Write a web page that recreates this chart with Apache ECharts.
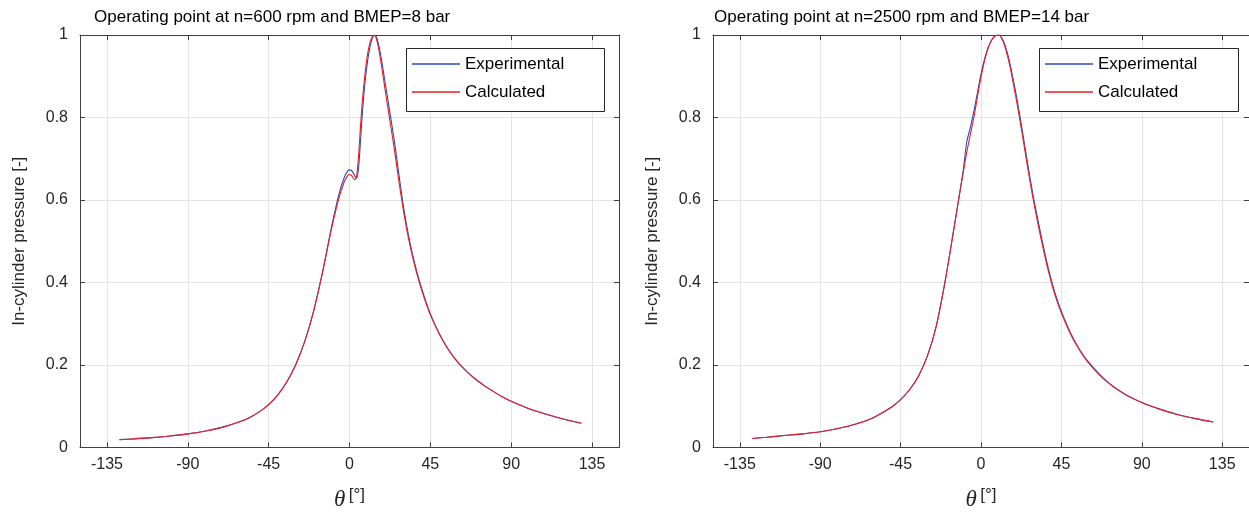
<!DOCTYPE html>
<html>
<head>
<meta charset="utf-8">
<script src="https://cdn.jsdelivr.net/npm/echarts@6/dist/echarts.min.js"></script>
<style>
  html, body { margin: 0; padding: 0; background: #ffffff; }
  #chart { width: 1249px; height: 516px; }
</style>
</head>
<body>
<div id="chart"></div>
<script>
// Crank angle (deg) and normalised in-cylinder pressure, n=600 rpm / BMEP=8 bar
const thetaLeft = [-128,-120,-110,-100,-90,-80,-70,-60,-55,-50,-45,-40,-35,-30,-25,-20,-15,-10,-6,-3,-1,0,1,2,3,4,5,6,7,8,9,10,11,12,13,14,15,16,17,18,20,22.5,25,27.5,30,32.5,35,37.5,40,42.5,45,50,55,60,65,70,75,80,85,90,100,110,120,129];
const expLeft = [0.019,0.021,0.024,0.028,0.033,0.040,0.050,0.064,0.074,0.087,0.104,0.127,0.158,0.200,0.256,0.330,0.425,0.535,0.612,0.654,0.670,0.673,0.672,0.666,0.658,0.653,0.675,0.735,0.800,0.855,0.900,0.935,0.962,0.982,0.995,1.000,0.995,0.980,0.960,0.935,0.880,0.812,0.742,0.662,0.585,0.522,0.470,0.426,0.388,0.354,0.324,0.276,0.238,0.208,0.185,0.166,0.150,0.136,0.123,0.112,0.094,0.080,0.068,0.059];
const calcLeft = [0.019,0.021,0.024,0.028,0.033,0.040,0.050,0.064,0.074,0.087,0.104,0.127,0.158,0.200,0.256,0.330,0.425,0.530,0.603,0.643,0.659,0.662,0.660,0.654,0.649,0.660,0.705,0.770,0.832,0.880,0.920,0.952,0.975,0.990,0.998,0.999,0.990,0.972,0.948,0.920,0.862,0.792,0.722,0.645,0.575,0.514,0.464,0.421,0.384,0.351,0.322,0.275,0.237,0.208,0.185,0.166,0.150,0.136,0.123,0.112,0.094,0.080,0.068,0.059];

// Crank angle (deg) and normalised in-cylinder pressure, n=2500 rpm / BMEP=14 bar
const thetaRight = [-128,-120,-110,-100,-90,-80,-70,-60,-50,-45,-40,-35,-30,-25,-20,-15,-12,-10,-8,-6,-4,-2,0,2,4,6,8,10,12,14,16,18,20,22.5,25,27.5,30,32.5,35,37.5,40,42.5,45,50,55,60,70,80,90,100,110,120,130];
const expRight = [0.022,0.025,0.029,0.033,0.038,0.046,0.057,0.073,0.098,0.116,0.140,0.173,0.222,0.295,0.405,0.535,0.615,0.670,0.740,0.775,0.815,0.860,0.905,0.942,0.970,0.988,0.998,1.000,0.990,0.968,0.935,0.893,0.848,0.785,0.718,0.652,0.592,0.538,0.486,0.438,0.396,0.360,0.330,0.279,0.239,0.208,0.162,0.131,0.109,0.093,0.080,0.070,0.062];
const calcRight = [0.022,0.025,0.029,0.033,0.038,0.046,0.057,0.073,0.098,0.116,0.140,0.173,0.222,0.295,0.405,0.535,0.615,0.665,0.715,0.758,0.800,0.850,0.898,0.938,0.968,0.988,0.998,1.000,0.988,0.963,0.928,0.884,0.838,0.775,0.708,0.643,0.583,0.529,0.478,0.431,0.390,0.355,0.326,0.276,0.237,0.206,0.161,0.130,0.109,0.093,0.080,0.070,0.062];

const xTicks = [-135, -90, -45, 0, 45, 90, 135];
const titles = ['Operating point at n=600 rpm and BMEP=8 bar', 'Operating point at n=2500 rpm and BMEP=14 bar'];
const seriesNames = ['Experimental', 'Calculated'];
const yName = 'In-cylinder pressure [-]';

const FONT = "'Liberation Sans', Arial, Helvetica, sans-serif";
const INK = '#262626';
const AXIS = '#404040';
const GRID = '#e3e3e3';
const BLUE = '#2a4bbd';
const RED = '#ee1d23';
const seriesColors = [BLUE, RED];

const zip = (xs, ys) => xs.map((x, i) => [x, ys[i]]);

const grids = [
  { left: 80, top: 35, width: 539, height: 413 },
  { left: 713, top: 35, width: 539, height: 413 }
];

function bottomX(gi) {
  return {
    type: 'value', gridIndex: gi, position: 'bottom', min: -150, max: 150,
    name: '{t|θ} {u|[°]}', nameLocation: 'middle', nameGap: 39,
    nameTextStyle: {
      rich: {
        t: { fontFamily: "'Liberation Serif', 'DejaVu Serif', serif", fontStyle: 'italic', fontSize: 23, color: INK, lineHeight: 26 },
        u: { fontFamily: FONT, fontSize: 17, color: INK, lineHeight: 26, verticalAlign: 'top', padding: [0, 0, 6, 0] }
      }
    },
    axisLine: { show: true, onZero: false, lineStyle: { color: AXIS, width: 1 } },
    axisTick: { show: true, inside: true, length: 5, customValues: xTicks, lineStyle: { color: AXIS } },
    axisLabel: { show: true, customValues: xTicks, margin: 9, fontFamily: FONT, fontSize: 16, color: INK },
    splitLine: { show: true, lineStyle: { color: GRID, width: 1 } }
  };
}
function topX(gi) {
  return {
    type: 'value', gridIndex: gi, position: 'top', min: -150, max: 150,
    axisLine: { show: true, onZero: false, lineStyle: { color: AXIS, width: 1 } },
    axisTick: { show: true, inside: true, length: 5, customValues: xTicks, lineStyle: { color: AXIS } },
    axisLabel: { show: false, customValues: xTicks },
    splitLine: { show: false }
  };
}
function leftY(gi) {
  return {
    type: 'value', gridIndex: gi, position: 'left', min: 0, max: 1, interval: 0.2,
    name: yName, nameLocation: 'middle', nameRotate: 90, nameGap: 52,
    nameTextStyle: { fontFamily: FONT, fontSize: 17, color: INK },
    axisLine: { show: true, onZero: false, lineStyle: { color: AXIS, width: 1 } },
    axisTick: { show: true, inside: true, length: 5, lineStyle: { color: AXIS } },
    axisLabel: { show: true, margin: 12, fontFamily: FONT, fontSize: 16, color: INK },
    splitLine: { show: true, lineStyle: { color: GRID, width: 1 } }
  };
}
function rightY(gi) {
  return {
    type: 'value', gridIndex: gi, position: 'right', min: 0, max: 1, interval: 0.2,
    axisLine: { show: true, onZero: false, lineStyle: { color: AXIS, width: 1 } },
    axisTick: { show: true, inside: true, length: 5, lineStyle: { color: AXIS } },
    axisLabel: { show: false },
    splitLine: { show: false }
  };
}

function lineSeries(name, xi, yi, theta, vals, color, z) {
  return {
    name, type: 'line', xAxisIndex: xi, yAxisIndex: yi,
    data: zip(theta, vals), symbol: 'none', showSymbol: false,
    smooth: 0.3, z,
    lineStyle: { color, width: 1.1 }, itemStyle: { color },
    emphasis: { disabled: true }
  };
}

function legendFor(left, top) {
  return {
    orient: 'vertical', left, top, padding: 0, itemGap: 8, z: 20,
    icon: 'rect', itemWidth: 48, itemHeight: 1.4,
    textStyle: { fontFamily: FONT, fontSize: 17, color: '#000000', lineHeight: 20 },
    data: seriesNames.map((name, i) => ({
      name,
      itemStyle: { color: seriesColors[i], borderWidth: 0, opacity: 1 }
    })),
    selectedMode: false
  };
}

const chart = echarts.init(document.getElementById('chart'), null, { renderer: 'canvas' });
chart.setOption({
  animation: false,
  backgroundColor: '#ffffff',
  title: [
    { text: titles[0], left: 94, top: 9, padding: 0, textStyle: { fontFamily: FONT, fontSize: 17, fontWeight: 'normal', color: '#000000' } },
    { text: titles[1], left: 714, top: 9, padding: 0, textStyle: { fontFamily: FONT, fontSize: 17, fontWeight: 'normal', color: '#000000' } }
  ],
  grid: grids,
  xAxis: [bottomX(0), topX(0), bottomX(1), topX(1)],
  yAxis: [leftY(0), rightY(0), leftY(1), rightY(1)],
  legend: [legendFor(412, 54), legendFor(1045, 54)],
  graphic: [
    { type: 'rect', left: 406, top: 48, z: 6, shape: { width: 198, height: 63 }, style: { fill: '#ffffff', stroke: '#262626', lineWidth: 1 } },
    { type: 'rect', left: 1039, top: 48, z: 6, shape: { width: 199, height: 63 }, style: { fill: '#ffffff', stroke: '#262626', lineWidth: 1 } }
  ],
  series: [
    lineSeries(seriesNames[0], 0, 0, thetaLeft, expLeft, BLUE, 2),
    lineSeries(seriesNames[1], 0, 0, thetaLeft, calcLeft, RED, 3),
    lineSeries(seriesNames[0], 2, 2, thetaRight, expRight, BLUE, 2),
    lineSeries(seriesNames[1], 2, 2, thetaRight, calcRight, RED, 3)
  ]
});
</script>
</body>
</html>
